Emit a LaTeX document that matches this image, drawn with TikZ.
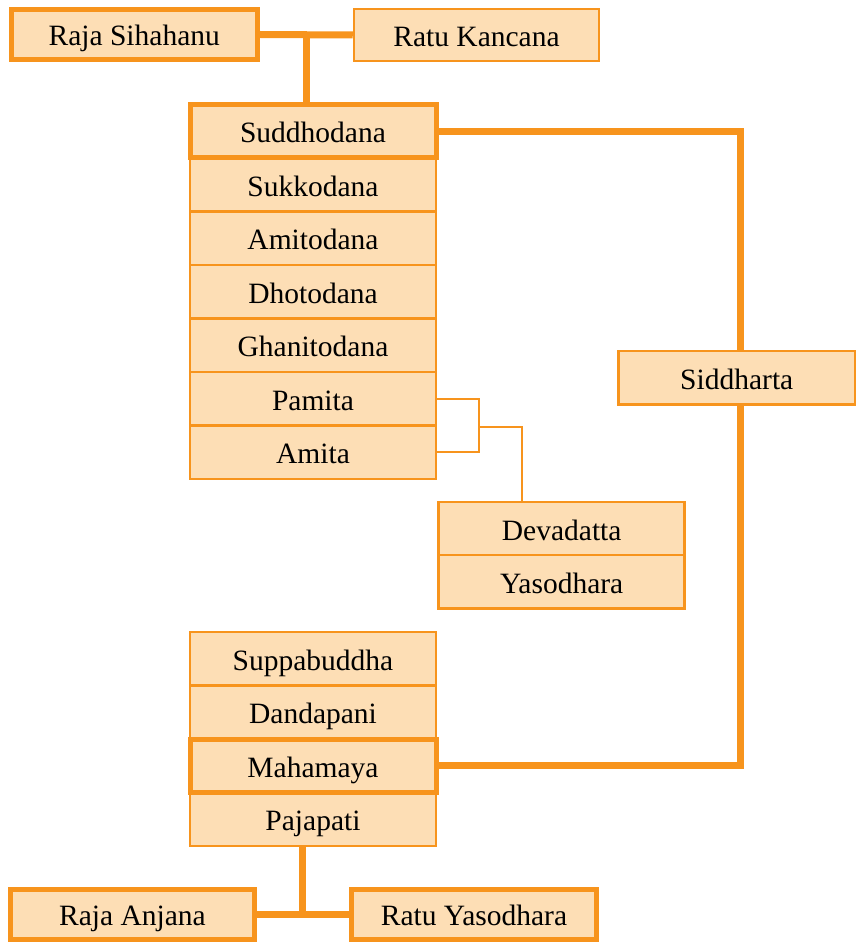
\documentclass[tikz,border=0pt]{standalone}
\usepackage{fontspec}
\setmainfont{Liberation Serif}
\definecolor{famline}{HTML}{F7941D}
\definecolor{famfill}{HTML}{FDDEB5}
\begin{document}
\begin{tikzpicture}[x=1pt,y=-1pt,
  person/.style={draw=famline,fill=famfill,line width=2.5pt,inner sep=0pt,
    minimum width=246pt,minimum height=53.5pt,text height=23pt,text depth=0pt,
    font=\fontsize{29.5}{34}\selectfont},
  elder/.style={person,line width=5pt},
  tie/.style={draw=famline,line width=7pt},
  twig/.style={draw=famline,line width=2pt}]
  \useasboundingbox (0,0) rectangle (856,944);

  % grandparents, father's side
  \node[elder,minimum width=246.5pt,minimum height=50pt] (sihahanu) at (134.25,34.5) {Raja Sihahanu};
  \node[person,minimum width=245pt,minimum height=52pt] (kancana) at (476.5,35) {Ratu Kancana};

  % father and his brothers and sisters
  \foreach \name/\who [count=\i] in {sukkodana/Sukkodana,amitodana/Amitodana,dhotodana/Dhotodana,
      ghanitodana/Ghanitodana,pamita/Pamita,amita/Amita}
    \node[person] (\name) at (313,{131.25+53.5*\i}) {\who};
  \node[elder] (suddhodana) at (313,131.25) {Suddhodana};

  % cousins
  \node[person,minimum height=53.3pt] (devadatta) at (561.7,528.5) {Devadatta};
  \node[person,minimum height=53.3pt] (yasodhara) at (561.7,581.8) {Yasodhara};

  \node[person,minimum width=236.5pt] (siddharta) at (736.75,377.75) {Siddharta};

  % mother and her brothers and sisters
  \node[person] (suppabuddha) at (313,658.75) {Suppabuddha};
  \node[person] (dandapani) at (313,712.25) {Dandapani};
  \node[person] (pajapati) at (313,819.25) {Pajapati};
  \node[elder] (mahamaya) at (313,765.75) {Mahamaya};

  % grandparents, mother's side
  \node[elder,minimum width=244pt,minimum height=50pt] (anjana) at (132.5,914) {Raja Anjana};
  \node[elder,minimum width=245pt,minimum height=50pt] (ratuyaso) at (474,914) {Ratu Yasodhara};

  \coordinate (heirs) at (306.5,35);
  \draw[tie] (sihahanu.east) -- (kancana.west);
  \draw[tie] (heirs) -- (heirs |- suddhodana.north);

  \draw[tie] (suddhodana.east) -| ([xshift=3.75pt]siddharta.north);
  \draw[tie] ([xshift=3.75pt]siddharta.south) |- (mahamaya.east);

  \coordinate (twins) at (479,427);
  \draw[twig] (pamita.east) -| (twins) |- (amita.east);
  \draw[twig] (twins) -| ([xshift=-40pt]devadatta.north);

  \coordinate (pajline) at ([xshift=-10.5pt]pajapati.south);
  \draw[tie] (anjana.east) -- (ratuyaso.west);
  \draw[tie] (pajline) -- (pajline |- anjana.east);
\end{tikzpicture}
\end{document}
